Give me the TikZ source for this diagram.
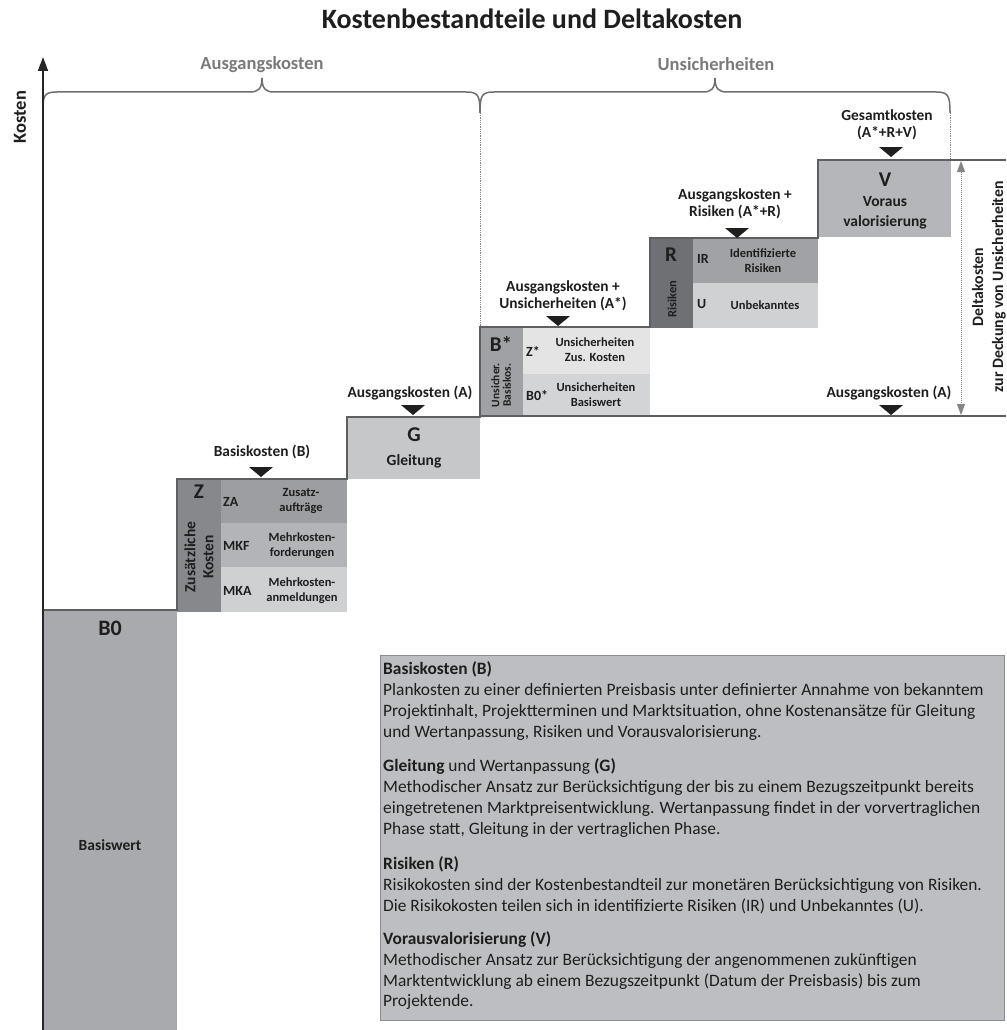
\documentclass[tikz,border=0pt]{standalone}
\usepackage{fontspec}
\setmainfont{Carlito}
\usetikzlibrary{arrows.meta}
\newcommand\fsz[2]{\fontsize{#1}{#2}\selectfont}
\definecolor{txt}{HTML}{1E1E1E}
\definecolor{profc}{HTML}{5E5F61}
\definecolor{bracec}{HTML}{6E6E6E}
\definecolor{glab}{HTML}{7A7A7A}
\definecolor{cB0}{HTML}{A9AAAD}
\definecolor{cZl}{HTML}{87888B}
\definecolor{cZA}{HTML}{9D9EA1}
\definecolor{cMKF}{HTML}{B3B4B7}
\definecolor{cMKA}{HTML}{CFD0D2}
\definecolor{cG}{HTML}{C6C7C9}
\definecolor{cBl}{HTML}{A0A1A4}
\definecolor{cZs}{HTML}{E4E4E5}
\definecolor{cBs}{HTML}{D3D4D6}
\definecolor{cRl}{HTML}{6F7073}
\definecolor{cIR}{HTML}{A1A2A5}
\definecolor{cU}{HTML}{D0D1D3}
\definecolor{cV}{HTML}{B5B6B9}
\definecolor{boxf}{HTML}{BDBEC1}
\definecolor{boxb}{HTML}{8C8D90}
\definecolor{darrow}{HTML}{858585}
\tikzset{
  lbl/.style={inner sep=0, text=txt, font=\bfseries\fsz{15.4}{17}, align=center},
  big/.style={inner sep=0, text=txt, font=\bfseries\fsz{21}{21}},
  mid/.style={inner sep=0, text=txt, font=\bfseries\fsz{15.5}{20}, align=center},
  rowkey/.style={inner sep=0, text=txt, font=\bfseries\fsz{14}{14}, anchor=west},
  rowdesc/.style={inner sep=0, text=txt, font=\bfseries\fsz{12.5}{15}, align=center},
  prof/.style={draw=profc, line width=2pt},
  bracepath/.style={draw=bracec, line width=1.5pt},
  dline/.style={draw=darrow, densely dotted, line width=1pt},
  dtext/.style={inner sep=0, text=txt, font=\fsz{17.4}{21}, anchor=base west},
  tri/.pic={\fill[black!88] (-12,-5) -- (12,-5) -- (0,5) -- cycle;},
}
\begin{document}
\begin{tikzpicture}[x=1pt,y=-1pt]
\useasboundingbox (0,0) rectangle (1006,1030);

% title
\node[inner sep=0, text=txt, font=\bfseries\fsz{28}{28}, anchor=base] (title) at (532,29) {Kostenbestandteile und Deltakosten};

% braces
\draw[bracepath] (43,108) .. controls (43,95) and (45,92) .. (57,92) -- (250,92)
  .. controls (258,92) and (262,89) .. (262,78) .. controls (262,89) and (266,92) .. (274,92)
  -- (466,92) .. controls (478,92) and (480,95) .. (480,113);
\draw[bracepath] (480,113) .. controls (480,95) and (482,92) .. (494,92) -- (703,92)
  .. controls (711,92) and (715,89) .. (715,78) .. controls (715,89) and (719,92) .. (727,92)
  -- (936,92) .. controls (948,92) and (950,95) .. (950,113);
\node[inner sep=0, text=glab, font=\bfseries\fsz{18.5}{18.5}, anchor=base] (lAusg) at (262,70) {Ausgangskosten};
\node[inner sep=0, text=glab, font=\bfseries\fsz{18.5}{18.5}, anchor=base] (lUns) at (716,71) {Unsicherheiten};
\coordinate (d1a) at (480,113);
\coordinate (d1b) at (480,327);
\coordinate (d2a) at (950,113);
\coordinate (d2b) at (950,160);
\draw[dline, line width=0.8pt] (d1a) -- (d1b);
\draw[dline, line width=0.8pt] (d2a) -- (d2b);

% fills
\fill[cB0] (43,610) rectangle (177,1030);
\fill[cZl] (177,479) rectangle (221,612);
\fill[cZA] (221,479) rectangle (347,523);
\fill[cMKF] (221,523) rectangle (347,567);
\fill[cMKA] (221,567) rectangle (347,612);
\fill[cG] (347,417) rectangle (480,479);
\fill[cBl] (480,327) rectangle (523,416);
\fill[cZs] (523,327) rectangle (650,374);
\fill[cBs] (523,374) rectangle (650,416);
\fill[cRl] (650,238) rectangle (693,328);
\fill[cIR] (693,238) rectangle (818,283);
\fill[cU] (693,283) rectangle (818,328);
\fill[cV] (818,160) rectangle (951,237);

% profile
\draw[prof] (43,610) -- (177,610) -- (177,479) -- (347,479) -- (347,417) -- (480,417)
  -- (480,327) -- (650,327) -- (650,238) -- (818,238) -- (818,160) -- (1006,160);
\draw[prof] (480,416) -- (1006,416);

% axis
\coordinate (ax0) at (43,1030);
\coordinate (ax1) at (43,57);
\draw[draw=black!85, line width=1.6pt, -{Triangle[width=10pt,length=14pt]}] (ax0) -- (ax1);
\node[inner sep=0, text=txt, font=\bfseries\fsz{18.5}{18.5}, rotate=90] (kosten) at (20,117) {Kosten};

% B0
\node[big, font=\bfseries\fsz{22}{22}] (B0) at (110,628) {B0};
\node[inner sep=0, text=txt, font=\bfseries\fsz{15.5}{15.5}] (basisw) at (110,845) {Basiswert};

% Z block
\node[big] (Z) at (199,492) {Z};
\node[inner sep=0, text=txt, font=\bfseries\fsz{15.5}{18}, align=center, rotate=90] (Zrot) at (199,557) {Zusätzliche\\Kosten};
\node[rowkey] (ZA) at (223,502) {ZA};
\node[rowdesc] (ZAd) at (301,501) {Zusatz-\\aufträge};
\node[rowkey] (MKF) at (223,546) {MKF};
\node[rowdesc] (MKFd) at (302,546) {Mehrkosten-\\forderungen};
\node[rowkey] (MKA) at (223,591) {MKA};
\node[rowdesc] (MKAd) at (302,591) {Mehrkosten-\\anmeldungen};
\node[lbl] (lB) at (262,452) {Basiskosten (B)};
\pic at (261,472) {tri};

% G block
\node[big] (G) at (414,435) {G};
\node[mid] (Gl) at (414,461) {Gleitung};
\node[lbl] (lA1) at (410,393) {Ausgangskosten (A)};
\pic at (413,410) {tri};

% B* block
\node[big] (Bs) at (501,344) {B*};
\node[inner sep=0, text=txt, font=\bfseries\fsz{11.5}{11.5}, align=center, rotate=90] (Bsrot) at (501,385) {Unsicher.\\Basiskos.};
\node[rowkey] (Zs) at (526,351) {Z*};
\node[rowdesc] (Zsd) at (595,350) {Unsicherheiten\\Zus. Kosten};
\node[rowkey] (B0s) at (526,396) {B0*};
\node[rowdesc] (B0sd) at (596,395) {Unsicherheiten\\Basiswert};
\node[lbl] (lAs) at (563,296) {Ausgangskosten +\\Unsicherheiten (A*)};
\pic at (558,321) {tri};

% R block
\node[big] (R) at (671,255) {R};
\node[inner sep=0, text=txt, font=\bfseries\fsz{12.5}{12.5}, rotate=90] (Rrot) at (672,299) {Risiken};
\node[rowkey] (IR) at (697,259) {IR};
\node[rowdesc] (IRd) at (763,261) {Identifizierte\\Risiken};
\node[rowkey] (U) at (697,304) {U};
\node[rowdesc] (Ud) at (765,305) {Unbekanntes};
\node[lbl] (lAR) at (735,204) {Ausgangskosten +\\Risiken (A*+R)};
\pic at (737,233) {tri};

% V block
\node[big] (V) at (885,180) {V};
\node[mid] (Vd) at (885,213) {Voraus\\valorisierung};
\node[lbl] (lGes) at (887,125) {Gesamtkosten\\(A*+R+V)};
\pic at (891,152) {tri};

% right side
\node[lbl] (lA2) at (889,393) {Ausgangskosten (A)};
\pic at (891,410) {tri};
\coordinate (da) at (961,161);
\coordinate (db) at (961,415);
\draw[dline, {Triangle[width=8pt,length=11pt]}-{Triangle[width=8pt,length=11pt]}] (da) -- (db);
\node[inner sep=0, text=txt, font=\bfseries\fsz{15.8}{20}, align=center, rotate=90] (delta) at (989,287) {Deltakosten\\zur Deckung von Unsicherheiten};

% text box
\node[draw=boxb, fill=boxf, line width=1pt, minimum width=624pt, minimum height=365pt, anchor=north west, inner sep=0] (box) at (380,655) {};
\node[dtext] (t1) at (383,674) {\bfseries Basiskosten (B)};
\node[dtext] (t2) at (383,695) {Plankosten zu einer definierten Preisbasis unter definierter Annahme von bekanntem};
\node[dtext] (t3) at (383,716) {Projektinhalt, Projektterminen und Marktsituation, ohne Kostenansätze für Gleitung};
\node[dtext] (t4) at (383,737) {und Wertanpassung, Risiken und Vorausvalorisierung.};
\node[dtext] (t5) at (383,771) {\textbf{Gleitung} und Wertanpassung \textbf{(G)}};
\node[dtext] (t6) at (383,792) {Methodischer Ansatz zur Berücksichtigung der bis zu einem Bezugszeitpunkt bereits};
\node[dtext] (t7) at (383,813) {eingetretenen Marktpreisentwicklung. Wertanpassung findet in der vorvertraglichen};
\node[dtext] (t8) at (383,834) {Phase statt, Gleitung in der vertraglichen Phase.};
\node[dtext] (t9) at (383,869) {\bfseries Risiken (R)};
\node[dtext] (t10) at (383,890) {Risikokosten sind der Kostenbestandteil zur monetären Berücksichtigung von Risiken.};
\node[dtext] (t11) at (383,911) {Die Risikokosten teilen sich in identifizierte Risiken (IR) und Unbekanntes (U).};
\node[dtext] (t12) at (383,944) {\bfseries Vorausvalorisierung (V)};
\node[dtext] (t13) at (383,965) {Methodischer Ansatz zur Berücksichtigung der angenommenen zukünftigen};
\node[dtext] (t14) at (383,986) {Marktentwicklung ab einem Bezugszeitpunkt (Datum der Preisbasis) bis zum};
\node[dtext] (t15) at (383,1006) {Projektende.};
\end{tikzpicture}
\end{document}
